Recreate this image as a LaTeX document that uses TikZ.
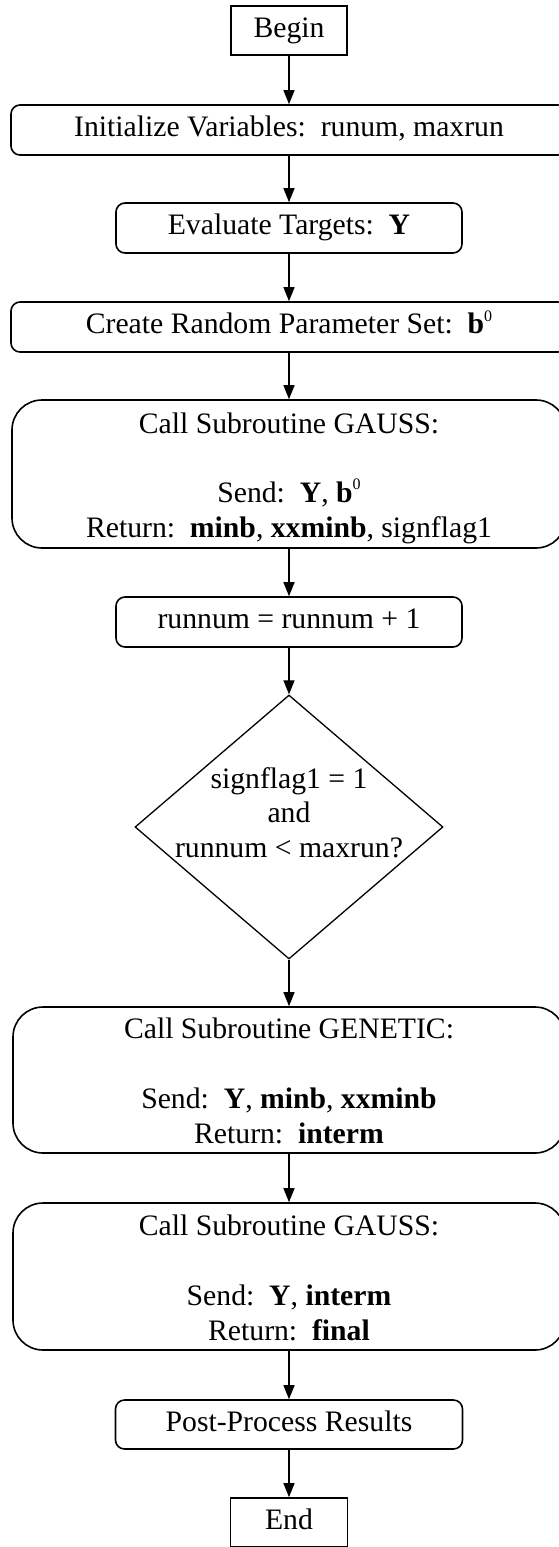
\documentclass[tikz,border=0pt]{standalone}
\usepackage{fontspec}
\setmainfont{Liberation Serif}
\usetikzlibrary{arrows.meta,shapes.geometric}

% small raised zero used as a parameter-set index
\newcommand{\zeroidx}{\raisebox{0.42em}{\fontsize{16}{16}\selectfont 0}}

\begin{document}
\begin{tikzpicture}[x=1pt,y=-1pt,
  every node/.style={font=\fontsize{29.7}{35}\selectfont},
  box/.style={draw, line width=1.6pt, inner sep=0pt, text height=20pt, text depth=7pt},
  plainbox/.style={box},
  smallbox/.style={box, rounded corners=9pt},
  bigbox/.style={box, rounded corners=30pt},
  txt/.style={anchor=base, inner sep=0pt},
  flow/.style={line width=1.3pt, -{Triangle[length=14pt,width=11pt]}}
]
\useasboundingbox (0,0) rectangle (559,1547);

% start and stop terminals
\node[plainbox, minimum width=116pt, minimum height=49pt] (begin) at (289,30.5) {Begin};
\node[plainbox, minimum width=117pt, minimum height=49pt] (end) at (289,1522.5) {End};

% single-line steps
\node[smallbox, minimum width=556pt, minimum height=50pt] (init) at (289,130)
  {Initialize Variables:\ \ runum, maxrun};
\node[smallbox, minimum width=346pt, minimum height=50pt] (eval) at (289,228)
  {Evaluate Targets:\ \ \textbf{Y}};
\node[smallbox, minimum width=556pt, minimum height=50pt] (rand) at (289,327)
  {Create Random Parameter Set:\ \ \textbf{b}\zeroidx};
\node[smallbox, minimum width=346pt, minimum height=50pt] (incr) at (289,622)
  {runnum = runnum + 1};
\node[smallbox, minimum width=347pt, minimum height=49pt] (post) at (289,1424.5)
  {Post-Process Results};

% first GAUSS call
\node[bigbox, minimum width=554pt, minimum height=148pt] (gaussA) at (289,474) {};
\node[txt] (gaussAa) at (289,433) {Call Subroutine GAUSS:};
\node[txt] (gaussAb) at (289,502) {Send:\ \ \textbf{Y}, \textbf{b}\zeroidx};
\node[txt] (gaussAc) at (289,537) {Return:\ \ \textbf{minb}, \textbf{xxminb}, signflag1};

% loop test
\node[draw, diamond, line width=1.3pt, inner sep=0pt,
      minimum width=308pt, minimum height=264pt] (test) at (289,827) {};
\node[txt] (testa) at (289,788) {signflag1 = 1};
\node[txt] (testb) at (289,822) {and};
\node[txt] (testc) at (289,857) {runnum < maxrun?};

% GENETIC call
\node[bigbox, minimum width=552pt, minimum height=146pt] (genetic) at (289,1080) {};
\node[txt] (genetica) at (289,1038) {Call Subroutine GENETIC:};
\node[txt] (geneticb) at (289,1108) {Send:\ \ \textbf{Y}, \textbf{minb}, \textbf{xxminb}};
\node[txt] (geneticc) at (289,1143) {Return:\ \ \textbf{interm}};

% second GAUSS call
\node[bigbox, minimum width=552pt, minimum height=147pt] (gaussB) at (289,1276.5) {};
\node[txt] (gaussBa) at (289,1235) {Call Subroutine GAUSS:};
\node[txt] (gaussBb) at (289,1305) {Send:\ \ \textbf{Y}, \textbf{interm}};
\node[txt] (gaussBc) at (289,1340) {Return:\ \ \textbf{final}};

% connectors
\draw[flow] (begin) -- (init);
\draw[flow] (init) -- (eval);
\draw[flow] (eval) -- (rand);
\draw[flow] (rand) -- (gaussA);
\draw[flow] (gaussA) -- (incr);
\draw[flow] (incr) -- (test);
\draw[flow] (test) -- (genetic);
\draw[flow] (genetic) -- (gaussB);
\draw[flow] (gaussB) -- (post);
\draw[flow] (post) -- (end);
\end{tikzpicture}
\end{document}
